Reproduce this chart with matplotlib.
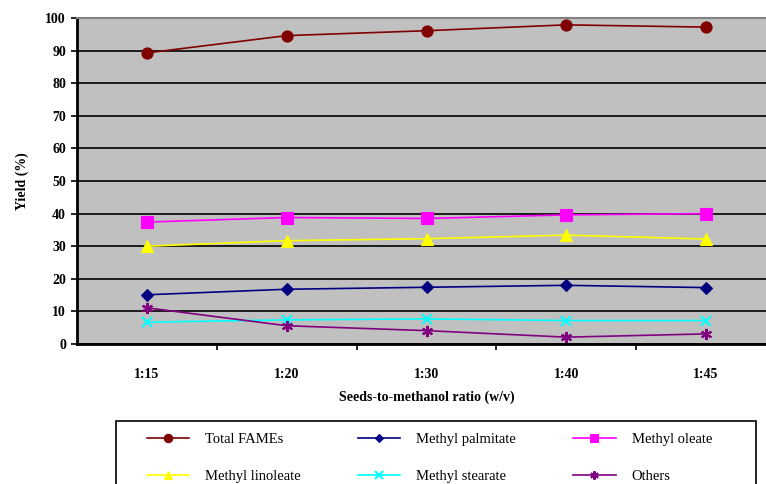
import matplotlib.pyplot as plt
from matplotlib.patches import Rectangle
from matplotlib.ticker import FixedLocator

plt.rcParams['font.family'] = ['Liberation Serif', 'DejaVu Serif']

ratios = ["1:15", "1:20", "1:30", "1:40", "1:45"]
total_fames = [89.3, 94.6, 96.1, 97.9, 97.2]
methyl_palmitate = [15.1, 16.8, 17.4, 18.0, 17.3]
methyl_oleate = [37.4, 38.8, 38.5, 39.6, 40.0]
methyl_linoleate = [30.0, 31.7, 32.3, 33.4, 32.2]
methyl_stearate = [6.7, 7.4, 7.7, 7.2, 7.2]
others = [11.1, 5.6, 4.1, 2.1, 3.1]

series = [
    ("Total FAMEs", total_fames, "#800000", "o", 8),
    ("Methyl palmitate", methyl_palmitate, "#000080", "D", 6),
    ("Methyl oleate", methyl_oleate, "#FF00FF", "s", 8),
    ("Methyl linoleate", methyl_linoleate, "#FFFF00", "^", 8),
    ("Methyl stearate", methyl_stearate, "#00FFFF", "x", 7),
    ("Others", others, "#800080", (6, 2, 0), 8),
]

W, H = 766, 484
fig = plt.figure(figsize=(W / 100, H / 100), dpi=100)
ax = fig.add_axes([77 / W, 1 - 344 / H, 699 / W, 326 / H])
ax.set_facecolor("#C0C0C0")

x = list(range(len(ratios)))
handles = {}
for name, vals, col, mk, ms in series:
    ln, = ax.plot(x, vals, color=col, marker=mk, markersize=ms, linewidth=1.2,
                  markeredgewidth=1.5 if mk in ("x", (6, 2, 0)) else 0.8,
                  markeredgecolor=col, label=name, clip_on=False, zorder=3)
    handles[name] = ln

ax.set_xlim(-0.5, len(ratios) - 0.5)
ax.set_ylim(0, 100)
ax.set_yticks(range(0, 101, 10))
ax.yaxis.grid(True, color="black", linewidth=1.2)
ax.set_axisbelow(True)

ax.set_xticks(x)
ax.set_xticklabels(ratios)
ax.xaxis.set_minor_locator(FixedLocator([i + 0.5 for i in range(len(ratios) - 1)]))
ax.tick_params(axis="x", which="major", length=0, pad=17)
ax.tick_params(axis="x", which="minor", length=4, width=1.2, direction="out")
ax.tick_params(axis="y", length=4, width=1.2, direction="out", pad=4)
for lab in ax.get_xticklabels() + ax.get_yticklabels():
    lab.set_fontweight("bold")
    lab.set_fontsize(10)

for s in ("left", "bottom"):
    ax.spines[s].set_linewidth(2)
    ax.spines[s].set_color("black")
ax.spines["top"].set_color("#808080")
ax.spines["top"].set_linewidth(1.5)
ax.spines["right"].set_color("#808080")

ax.set_ylabel("Yield (%)", fontsize=10, fontweight="bold", labelpad=12)
ax.set_xlabel("Seeds-to-methanol ratio (w/v)", fontsize=10, fontweight="bold", labelpad=7)

# legend box (runs off the bottom of the picture, as in the original)
fig.patches.append(Rectangle((116 / W, -0.1), 640 / W, 0.1 + 1 - 421 / H,
                             transform=fig.transFigure, facecolor="white",
                             edgecolor="black", linewidth=1.2, zorder=0))

order = ["Total FAMEs", "Methyl linoleate", "Methyl palmitate",
         "Methyl stearate", "Methyl oleate", "Others"]
leg = fig.legend([handles[n] for n in order], order, ncol=3,
                 loc="upper left", bbox_to_anchor=(147 / W, 1 - 433 / H, 565 / W, 0.0),
                 mode="expand", fontsize=10.5, frameon=False,
                 handlelength=2.9, handletextpad=1.1,
                 labelspacing=1.6, borderpad=0, markerscale=0.75, borderaxespad=0)

fig.savefig("out.png", dpi=100)
